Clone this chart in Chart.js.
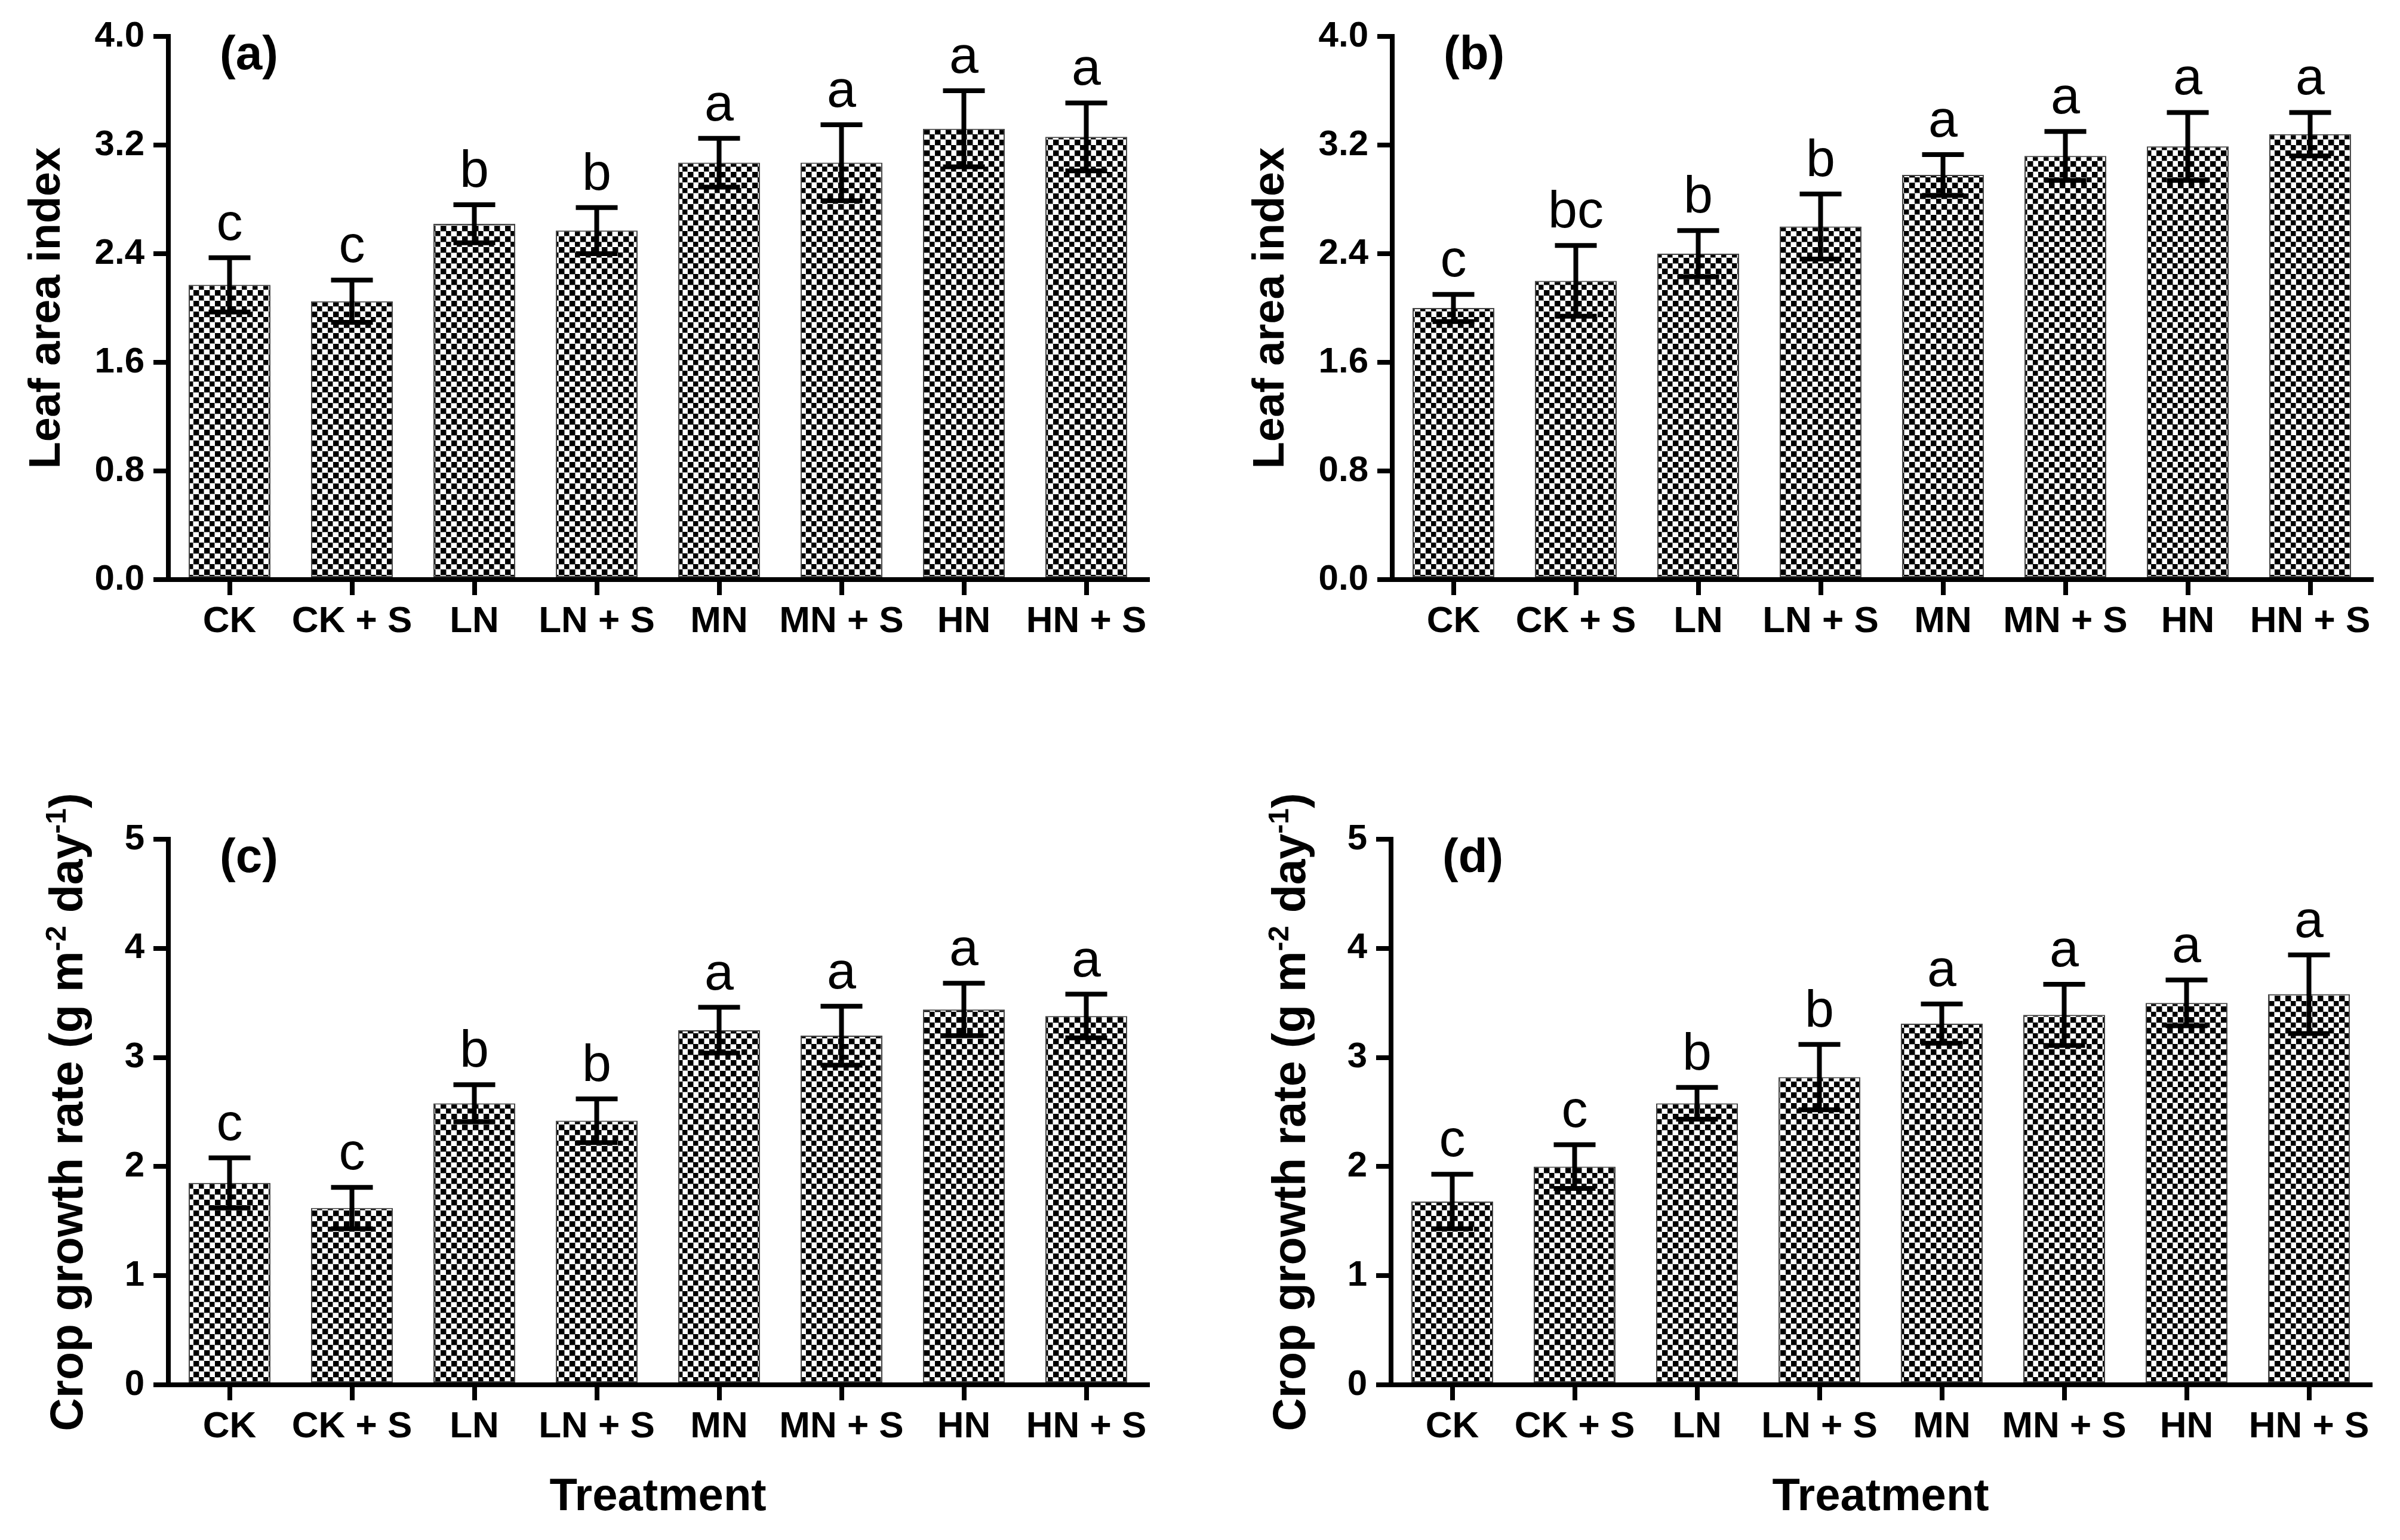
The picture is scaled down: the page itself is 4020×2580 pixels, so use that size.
<!DOCTYPE html>
<html>
<head>
<meta charset="utf-8">
<script src="https://cdn.jsdelivr.net/npm/chart.js@4.4.1/dist/chart.umd.min.js"></script>
<style>
  html, body { margin: 0; padding: 0; background: #fff; }
  #page { position: relative; width: 4020px; height: 2580px; background: #fff; }
  canvas { position: absolute; }
</style>
</head>
<body>
<div id="page">
  <canvas id="panelA" width="2010" height="1290" style="left:0;top:0"></canvas>
  <canvas id="panelB" width="2010" height="1290" style="left:2010px;top:0"></canvas>
  <canvas id="panelC" width="2010" height="1290" style="left:0;top:1290px"></canvas>
  <canvas id="panelD" width="2010" height="1290" style="left:2010px;top:1290px"></canvas>
</div>
<script>
// categories and tick values
const treatments = ["CK", "CK + S", "LN", "LN + S", "MN", "MN + S", "HN", "HN + S"];
const laiTicks = [0, 0.8, 1.6, 2.4, 3.2, 4.0];
const cgrTicks = [0, 1, 2, 3, 4, 5];

// (a) leaf area index
const laiA = [2.17, 2.05, 2.62, 2.57, 3.07, 3.07, 3.32, 3.26];
const laiAErr = [0.20, 0.155, 0.14, 0.17, 0.18, 0.28, 0.28, 0.25];
const laiALetters = ["c", "c", "b", "b", "a", "a", "a", "a"];

// (b) leaf area index
const laiB = [2.00, 2.20, 2.40, 2.60, 2.98, 3.12, 3.19, 3.28];
const laiBErr = [0.10, 0.26, 0.17, 0.24, 0.15, 0.18, 0.25, 0.16];
const laiBLetters = ["c", "bc", "b", "b", "a", "a", "a", "a"];

// (c) crop growth rate
const cgrC = [1.85, 1.62, 2.58, 2.42, 3.25, 3.20, 3.44, 3.38];
const cgrCErr = [0.23, 0.19, 0.17, 0.20, 0.21, 0.27, 0.24, 0.20];
const cgrCLetters = ["c", "c", "b", "b", "a", "a", "a", "a"];

// (d) crop growth rate
const cgrD = [1.68, 2.00, 2.58, 2.82, 3.31, 3.39, 3.50, 3.58];
const cgrDErr = [0.25, 0.20, 0.145, 0.30, 0.18, 0.28, 0.21, 0.36];
const cgrDLetters = ["c", "c", "b", "b", "a", "a", "a", "a"];

const laiTitle = [{ t: "Leaf area index" }];
const cgrTitle = [
  { t: "Crop growth rate (g m" }, { t: "-2", sup: true },
  { t: " day" }, { t: "-1", sup: true }, { t: ")" }
];

const FONT = '"Liberation Sans", Arial, sans-serif';

// checkerboard fill, 9px cells with a faint grey seam
function checkerPattern() {
  const c = document.createElement("canvas");
  c.width = 18; c.height = 18;
  const g = c.getContext("2d");
  g.fillStyle = "#fff";
  g.fillRect(0, 0, 18, 18);
  g.fillStyle = "#000";
  g.fillRect(0, 0, 9, 9);
  g.fillRect(9, 9, 9, 9);
  g.fillStyle = "#8a8a8a";
  g.fillRect(9, 0, 1, 9);
  g.fillRect(0, 9, 9, 1);
  g.fillRect(17, 9, 1, 9);
  g.fillRect(9, 17, 9, 1);
  return g.createPattern(c, "repeat");
}

function extrasPlugin(p) {
  return {
    id: "extras",
    afterDatasetsDraw(chart) {
      const ctx = chart.ctx;
      const y = chart.scales.y;
      const meta = chart.getDatasetMeta(0);
      ctx.save();
      ctx.strokeStyle = "#000";
      ctx.lineWidth = 8;
      ctx.fillStyle = "#000";
      ctx.font = "88px " + FONT;
      ctx.textAlign = "center";
      ctx.textBaseline = "alphabetic";
      meta.data.forEach((bar, i) => {
        const top = y.getPixelForValue(p.values[i] + p.errors[i]);
        const bot = y.getPixelForValue(p.values[i] - p.errors[i]);
        ctx.beginPath();
        ctx.moveTo(bar.x, top); ctx.lineTo(bar.x, bot);
        ctx.moveTo(bar.x - 35, top); ctx.lineTo(bar.x + 35, top);
        ctx.moveTo(bar.x - 35, bot); ctx.lineTo(bar.x + 35, bot);
        ctx.stroke();
        ctx.fillText(p.letters[i], bar.x, top - 30);
      });
      ctx.restore();
    },
    afterDraw(chart) {
      const ctx = chart.ctx;
      const area = chart.chartArea;
      ctx.save();
      ctx.fillStyle = "#000";
      // panel tag
      ctx.font = "bold 80px " + FONT;
      ctx.textAlign = "left";
      ctx.textBaseline = "alphabetic";
      ctx.fillText(p.tag, area.left + 86, area.top + 55);

      // y title, rotated, with superscripts
      const size = p.titleSize;
      const supSize = Math.round(size * 0.62);
      let total = 0;
      p.yTitle.forEach(s => {
        ctx.font = "bold " + (s.sup ? supSize : size) + "px " + FONT;
        s.w = ctx.measureText(s.t).width;
        total += s.w;
      });
      ctx.translate(area.left - p.titleGap, (area.top + area.bottom) / 2);
      ctx.rotate(-Math.PI / 2);
      let x = -total / 2;
      p.yTitle.forEach(s => {
        ctx.font = "bold " + (s.sup ? supSize : size) + "px " + FONT;
        ctx.fillText(s.t, x, s.sup ? -size * 0.36 : 0);
        x += s.w;
      });
      ctx.setTransform(1, 0, 0, 1, 0, 0);

      if (p.xTitle) {
        ctx.font = "bold 76px " + FONT;
        ctx.textAlign = "center";
        ctx.fillText(p.xTitle, (area.left + area.right) / 2, area.bottom + 210);
      }
      ctx.restore();
    }
  };
}

function makePanel(canvasId, p) {
  const ctx = document.getElementById(canvasId);
  if (!ctx) return;
  const W = ctx.width, H = ctx.height;

  return new Chart(ctx, {
    type: "bar",
    data: {
      labels: treatments,
      datasets: [{
        data: p.values,
        backgroundColor: checkerPattern(),
        borderColor: "#444",
        borderWidth: 2,
        borderSkipped: false,
        categoryPercentage: 1,
        barPercentage: 0.668
      }]
    },
    options: {
      responsive: false,
      animation: false,
      devicePixelRatio: 1,
      layout: { padding: { left: 0, top: p.top, right: W - p.right, bottom: 0 } },
      plugins: { legend: { display: false }, tooltip: { enabled: false } },
      scales: {
        x: {
          afterFit(scale) { scale.height = H - p.bottom; },
          border: { display: true, color: "#000", width: 8 },
          grid: { display: true, drawOnChartArea: false, drawTicks: true, tickLength: 26, lineWidth: 8, color: "#000", offset: false },
          ticks: { color: "#000", font: { family: FONT, size: 62, weight: "bold" }, padding: 8, maxRotation: 0, autoSkip: false }
        },
        y: {
          min: p.ticks[0],
          max: p.ticks[p.ticks.length - 1],
          afterFit(scale) { scale.width = p.left; },
          afterBuildTicks(scale) { scale.ticks = p.ticks.map(v => ({ value: v })); },
          border: { display: true, color: "#000", width: 8 },
          grid: { display: true, drawOnChartArea: false, drawTicks: true, tickLength: 25, lineWidth: 8, color: "#000" },
          ticks: {
            color: "#000",
            font: { family: FONT, size: 60, weight: "bold" },
            padding: 15,
            callback: v => p.decimals ? Number(v).toFixed(1) : String(v)
          }
        }
      }
    },
    plugins: [extrasPlugin(p)]
  });
}

makePanel("panelA", {
  values: laiA, errors: laiAErr, letters: laiALetters, ticks: laiTicks, decimals: true,
  tag: "(a)", yTitle: laiTitle, titleSize: 74, titleGap: 182,
  left: 282, right: 1922, top: 61, bottom: 971
});
makePanel("panelB", {
  values: laiB, errors: laiBErr, letters: laiBLetters, ticks: laiTicks, decimals: true,
  tag: "(b)", yTitle: laiTitle, titleSize: 74, titleGap: 182,
  left: 322, right: 1962, top: 61, bottom: 971
});
makePanel("panelC", {
  values: cgrC, errors: cgrCErr, letters: cgrCLetters, ticks: cgrTicks, decimals: false,
  tag: "(c)", yTitle: cgrTitle, titleSize: 77, titleGap: 144, xTitle: "Treatment",
  left: 282, right: 1922, top: 116, bottom: 1030
});
makePanel("panelD", {
  values: cgrD, errors: cgrDErr, letters: cgrDLetters, ticks: cgrTicks, decimals: false,
  tag: "(d)", yTitle: cgrTitle, titleSize: 77, titleGap: 144, xTitle: "Treatment",
  left: 320, right: 1960, top: 116, bottom: 1030
});
</script>
</body>
</html>
